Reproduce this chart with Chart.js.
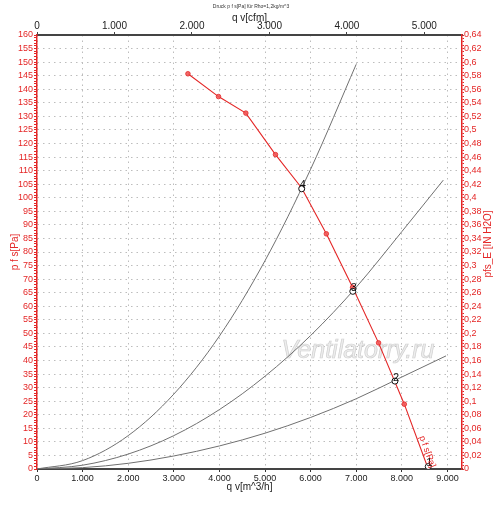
<!DOCTYPE html>
<html>
<head>
<meta charset="utf-8">
<script src="https://cdn.jsdelivr.net/npm/chart.js@4.4.1/dist/chart.umd.min.js"></script>
<style>
  html, body { margin: 0; padding: 0; background: #fff; }
  canvas { display: block; }
</style>
</head>
<body>
<canvas id="chart" width="500" height="505"></canvas>
<script>
// fan curve: q v [m^3/h] -> p f s [Pa]
const fanFlow = [3310, 3980, 4580, 5230, 5800, 6345, 6920, 7490, 8055, 8580];
const fanPressure = [145.7, 137.3, 131.2, 115.9, 103.7, 86.7, 67.0, 46.5, 23.9, 0];

// system curves
const sysAFlow = [0, 1000, 2000, 3000, 4000, 5000, 6000, 7000];
const sysAPressure = [0, 3.1, 12.3, 27.6, 49.0, 76.8, 110.5, 149.2];
const sysBFlow = [0, 1000, 2000, 3000, 4000, 5000, 6000, 7000, 8000, 8910];
const sysBPressure = [0, 1.4, 5.5, 12.3, 21.9, 34.2, 49.2, 67.0, 87.5, 106.5];
const sysCFlow = [0, 1000, 2000, 3000, 4000, 5000, 6000, 7000, 8000, 8970];
const sysCPressure = [0, 0.5, 2.1, 4.8, 8.5, 13.2, 19.0, 25.9, 33.9, 41.7];

// operating points
const opNames = ['1', '2', '3', '4'];
const opFlow = [8580, 7850, 6925, 5805];
const opPressure = [0.9, 32.4, 65.5, 103.3];

// axes
const flowMax = 9320;          // m^3/h
const cfmFactor = 1.699;       // m^3/h per cfm
const paMax = 160;
const inH2OMax = 0.64;
const flowTicks = [0, 1000, 2000, 3000, 4000, 5000, 6000, 7000, 8000, 9000];
const cfmTicks = [0, 1000, 2000, 3000, 4000, 5000];

const RED = 'rgb(228,38,38)';
const GRID = '#bdbdbd';
const FONT = '"Liberation Sans", Arial, sans-serif';
Chart.defaults.font.family = FONT;
Chart.defaults.font.size = 9;

const pts = (xs, ys) => xs.map((x, i) => ({ x: x, y: ys[i] }));
const thousands = v => v >= 1000 ? Math.floor(v / 1000) + '.' + String(Math.round(v % 1000)).padStart(3, '0') : String(v);

const annotations = {
  id: 'annotations',
  beforeDatasetsDraw(chart) {
    const ctx = chart.ctx;
    ctx.save();
    ctx.font = 'italic 25px ' + FONT;
    ctx.textAlign = 'center';
    ctx.textBaseline = 'middle';
    ctx.fillStyle = '#ededed';
    ctx.strokeStyle = '#d0d0d0';
    ctx.lineWidth = 0.7;
    ctx.fillText('Ventilatorry.ru', 358, 351);
    ctx.strokeText('Ventilatorry.ru', 358, 351);
    ctx.restore();
  },
  afterDatasetsDraw(chart) {
    const ctx = chart.ctx;
    const xs = chart.scales.x, ys = chart.scales.y;
    ctx.save();
    // operating point numbers
    ctx.font = '11px ' + FONT;
    ctx.fillStyle = '#111';
    ctx.textAlign = 'center';
    ctx.textBaseline = 'bottom';
    opNames.forEach((n, i) => {
      ctx.fillText(n, xs.getPixelForValue(opFlow[i]) + 1, ys.getPixelForValue(opPressure[i]) + 2);
    });
    // label along the fan curve
    const n = fanFlow.length;
    const x1 = xs.getPixelForValue(fanFlow[n - 2]), y1 = ys.getPixelForValue(fanPressure[n - 2]);
    const x2 = xs.getPixelForValue(fanFlow[n - 1]), y2 = ys.getPixelForValue(fanPressure[n - 1]);
    const ang = Math.atan2(y2 - y1, x2 - x1);
    const t = 0.76;
    ctx.translate(x1 + (x2 - x1) * t, y1 + (y2 - y1) * t);
    ctx.rotate(ang);
    ctx.translate(0, -5);
    ctx.font = '9px ' + FONT;
    ctx.fillStyle = RED;
    ctx.textBaseline = 'middle';
    ctx.fillText('p f s[Pa]', 0, 0);
    ctx.restore();
  },
  afterDraw(chart) {
    const ctx = chart.ctx;
    const area = chart.chartArea;
    ctx.save();
    ctx.font = '5px ' + FONT;
    ctx.fillStyle = '#333';
    ctx.textAlign = 'center';
    ctx.textBaseline = 'middle';
    ctx.fillText('Druck p f s[Pa] für Rho=1,2kg/m^3', 251, 7);
    // right axis title, reading bottom to top
    ctx.translate(488, (area.top + area.bottom) / 2 - 8);
    ctx.rotate(-Math.PI / 2);
    ctx.font = '10px ' + FONT;
    ctx.fillStyle = RED;
    ctx.fillText('pfs_E [IN H2O]', 0, 0);
    ctx.restore();
  }
};

new Chart(document.getElementById('chart'), {
  type: 'scatter',
  data: {
    datasets: [
      {
        label: 'fan',
        data: pts(fanFlow, fanPressure),
        showLine: true,
        borderColor: RED,
        borderWidth: 1.1,
        backgroundColor: 'rgba(240,90,90,0.9)',
        pointBorderColor: RED,
        pointRadius: fanFlow.map((f, i) => i === fanFlow.length - 1 ? 0 : 2.3),
        pointBorderWidth: 0.8,
        tension: 0,
        order: 1
      },
      {
        label: 'A', data: pts(sysAFlow, sysAPressure), showLine: true,
        borderColor: '#707070', borderWidth: 1, pointRadius: 0,
        cubicInterpolationMode: 'monotone', order: 2
      },
      {
        label: 'B', data: pts(sysBFlow, sysBPressure), showLine: true,
        borderColor: '#707070', borderWidth: 1, pointRadius: 0,
        cubicInterpolationMode: 'monotone', order: 2
      },
      {
        label: 'C', data: pts(sysCFlow, sysCPressure), showLine: true,
        borderColor: '#707070', borderWidth: 1, pointRadius: 0,
        cubicInterpolationMode: 'monotone', order: 2
      },
      {
        label: 'op', data: pts(opFlow, opPressure), showLine: false,
        pointRadius: 3, pointBorderWidth: 1, pointBorderColor: '#111',
        pointBackgroundColor: '#fff', order: 0
      }
    ]
  },
  options: {
    responsive: false,
    animation: false,
    layout: { padding: 0 },
    plugins: { legend: { display: false }, tooltip: { enabled: false }, title: { display: false } },
    scales: {
      x: {
        type: 'linear', position: 'bottom', min: 0, max: flowMax,
        afterFit: s => { s.height = 36; },
        afterBuildTicks: s => { s.ticks = flowTicks.map(v => ({ value: v })); },
        ticks: { color: '#222', padding: 1, maxRotation: 0, autoSkip: false, callback: v => thousands(v) },
        grid: { color: GRID, tickColor: '#333', tickLength: 3 },
        border: { color: '#444', width: 2, dash: [1.5, 4] },
        title: { display: true, text: 'q v[m^3/h]', color: '#222', font: { size: 10 }, padding: { top: 0, bottom: 12 } }
      },
      x2: {
        type: 'linear', position: 'top', min: 0, max: flowMax / cfmFactor,
        afterFit: s => { s.height = 35; },
        afterBuildTicks: s => { s.ticks = cfmTicks.map(v => ({ value: v })); },
        ticks: { color: '#222', padding: 0, maxRotation: 0, autoSkip: false, font: { size: 10 }, callback: v => thousands(v) },
        grid: { drawOnChartArea: false, tickColor: '#444', tickLength: 3 },
        border: { color: '#444', width: 2 },
        title: { display: true, text: 'q v[cfm]', color: '#222', font: { size: 10 }, padding: { top: 12, bottom: 0 } }
      },
      y: {
        type: 'linear', position: 'left', min: 0, max: paMax,
        afterFit: s => { s.width = 37; },
        ticks: {
          stepSize: 1, autoSkip: false, includeBounds: false, color: RED, padding: 1,
          callback: v => v % 5 === 0 ? String(v) : ''
        },
        grid: {
          color: c => (c.tick && c.tick.value % 5 === 0) ? GRID : 'rgba(0,0,0,0)',
          tickColor: RED, tickLength: 3
        },
        border: { color: RED, width: 1.5, dash: [1.5, 4] },
        title: { display: true, text: 'p f s[Pa]', color: RED, font: { size: 10 }, padding: { top: 9, bottom: 0 } }
      },
      y2: {
        type: 'linear', position: 'right', min: 0, max: inH2OMax,
        afterFit: s => { s.width = 38; },
        ticks: {
          stepSize: 0.005, autoSkip: false, includeBounds: false, color: RED, padding: 0,
          callback: v => {
            const m = Math.round(v * 1000);
            if (m % 20 !== 0) return '';
            return String(parseFloat((m / 1000).toFixed(2))).replace('.', ',');
          }
        },
        grid: { drawOnChartArea: false, tickColor: RED, tickLength: 2 },
        border: { color: RED, width: 1.5 }
      }
    }
  },
  plugins: [annotations]
});
</script>
</body>
</html>
